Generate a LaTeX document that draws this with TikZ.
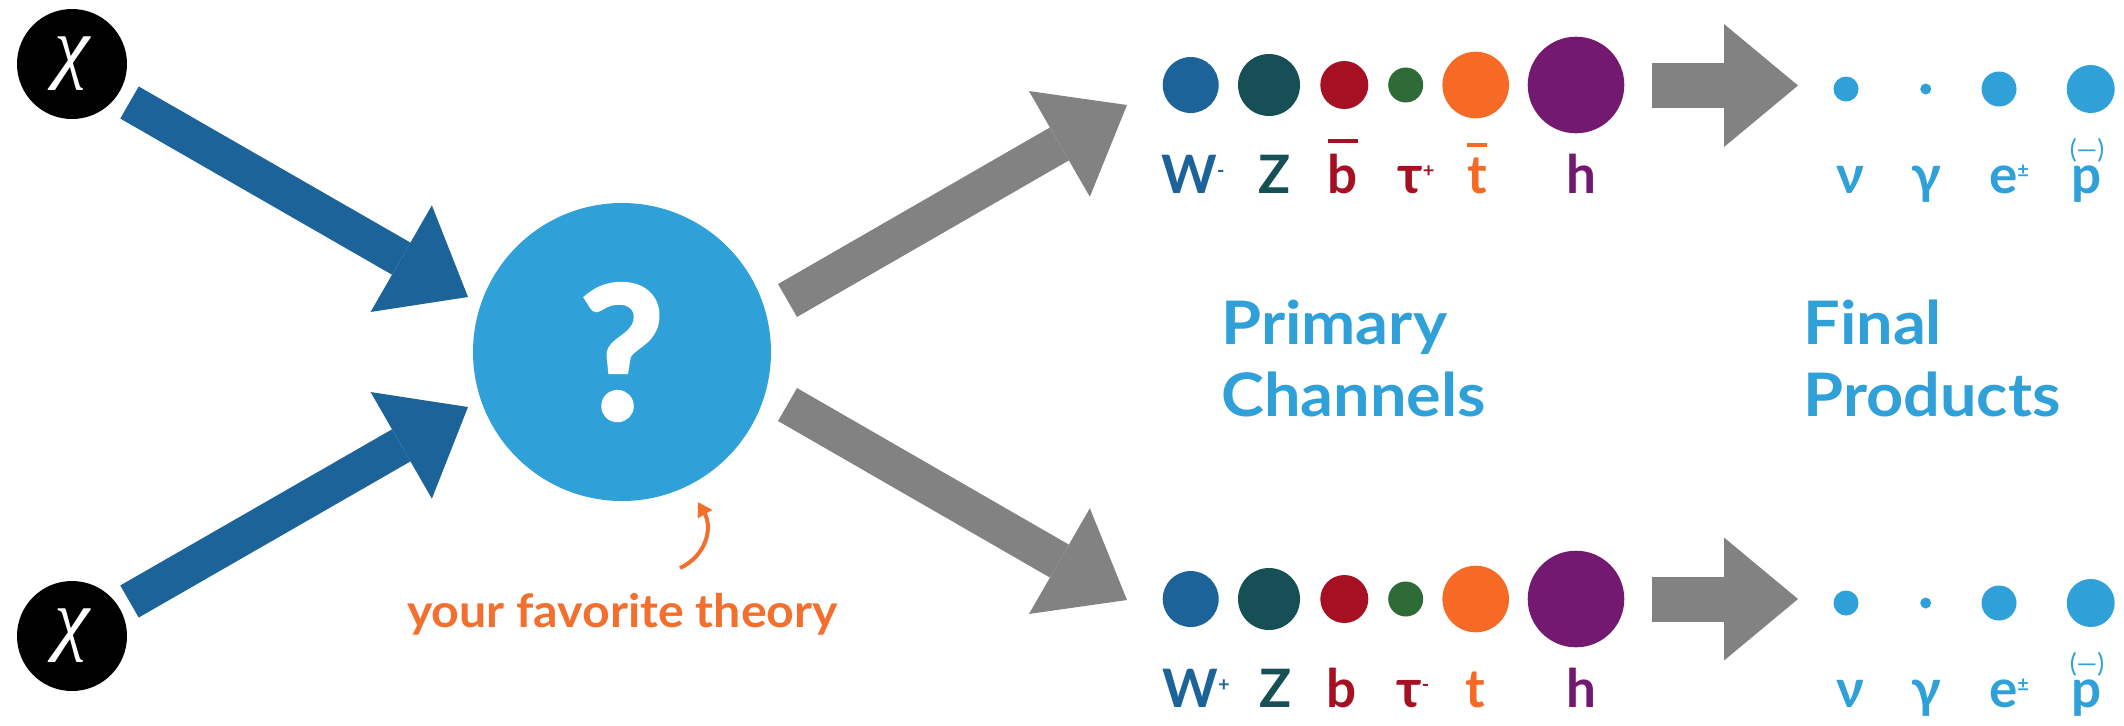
\documentclass[tikz,border=0pt]{standalone}
\usepackage{fontspec}
\setmainfont{Lato}
\newfontfamily\chifont{Liberation Serif}
\newfontfamily\widefont{Lato}[FakeStretch=1.08]
\newfontfamily\favfont{Lato}[FakeStretch=1.05]
\newfontfamily\qfont{Lato}[FakeBold=2.5]
\usetikzlibrary{arrows.meta}
\definecolor{arrowblue}{HTML}{1B6399}
\definecolor{qblue}{HTML}{2FA1D8}
\definecolor{arrowgray}{HTML}{828282}
\definecolor{cW}{HTML}{1C6399}
\definecolor{cZ}{HTML}{164F56}
\definecolor{cb}{HTML}{A51122}
\definecolor{ctau}{HTML}{2E6B36}
\definecolor{ct}{HTML}{F66A25}
\definecolor{ch}{HTML}{73196F}
\definecolor{theory}{HTML}{F36F2E}
\newcommand\sgn[1]{\raisebox{8pt}{\fontsize{10}{10}\selectfont #1}}
\newcommand\ovl[1]{\vbox{\hrule height 2pt\kern 5.5pt\hbox{#1}}}
\tikzset{
  dot/.style={circle, fill=#1, inner sep=0pt},
  plab/.style={anchor=base, text=#1, font=\fontsize{26.5}{26.5}\selectfont\bfseries, inner sep=0pt},
  chinode/.style={circle, fill=black, inner sep=0pt, minimum size=55pt, text=white, font=\fontsize{40}{40}\selectfont\chifont\itshape},
  bluearrow/.style={draw=arrowblue, line width=18.5pt, -{Triangle[length=38.5pt,width=61.5pt,line width'=0pt]}},
  grayarrow/.style={draw=arrowgray, line width=19pt, -{Triangle[length=39pt,width=61pt,line width'=0pt]}},
  rightarrow/.style={draw=arrowgray, line width=22.5pt, -{Triangle[length=37pt,width=61.5pt,line width'=0pt]}},
  heading/.style={anchor=north west, align=left, text=qblue, inner sep=0pt, font=\fontsize{30}{36}\selectfont\widefont\bfseries},
  parens/.style={text=qblue, inner sep=0pt, font=\fontsize{13}{13}\selectfont},
}
\begin{document}
\begin{tikzpicture}[x=0.5pt, y=-0.5pt]
\useasboundingbox (0,0) rectangle (2124,725);

% incoming particles
\node[chinode] (chi1) at (72,64) {χ};
\node[chinode] (chi2) at (72,636) {χ};

% theory
\node[circle, fill=qblue, inner sep=0pt, minimum size=149pt, text=white,
      font=\fontsize{92}{92}\selectfont\qfont\bfseries] (q) at (622,352) {?};

% arrow coordinates
\coordinate (b1s) at (129.5,102.5); \coordinate (b1e) at (468,297);
\coordinate (b2s) at (129.5,601.5); \coordinate (b2e) at (468,407);
\coordinate (g1s) at (787.5,300.5); \coordinate (g1e) at (1127,105);
\coordinate (g2s) at (787.5,404.5); \coordinate (g2e) at (1127,600);
\coordinate (r1s) at (1652,85.5);   \coordinate (r1e) at (1798,85.5);
\coordinate (r2s) at (1652,599);    \coordinate (r2e) at (1798,599);

\draw[bluearrow] (b1s) -- (b1e);
\draw[bluearrow] (b2s) -- (b2e);
\draw[grayarrow] (g1s) -- (g1e);
\draw[grayarrow] (g2s) -- (g2e);
\draw[rightarrow] (r1s) -- (r1e);
\draw[rightarrow] (r2s) -- (r2e);

% favourite theory
\node[anchor=base, text=theory, inner sep=0pt, font=\fontsize{23}{23}\selectfont\favfont\bfseries] (fav) at (622.5,627) {your favorite theory};
\coordinate (ot) at (680,568);
\coordinate (oh) at (698,502);
\draw[theory, line width=2pt, -{Triangle[length=7pt,width=8pt]}] (ot) .. controls (706,556) and (713,528) .. (oh);

% top primary channels
\node[dot=cW,   minimum size=28pt] (tW) at (1190.7,85) {};
\node[dot=cZ,   minimum size=31pt] (tZ) at (1269,85) {};
\node[dot=cb,   minimum size=24pt] (tb) at (1344.3,85) {};
\node[dot=ctau, minimum size=17.5pt] (ttau) at (1405.7,85) {};
\node[dot=ct,   minimum size=33.3pt] (tt) at (1475.7,85) {};
\node[dot=ch,   minimum size=48.3pt] (th) at (1576,85) {};
\node[plab=cW] (ltW) at (1193,193) {W\sgn{-}};
\node[plab=cZ] (ltZ) at (1275,193) {Z};
\node[plab=cb] (ltb) at (1343,193) {\ovl{b}};
\node[plab=cb] (lttau) at (1416,193) {τ\sgn{+}};
\node[plab=ct] (ltt) at (1477,193) {\ovl{t}};
\node[plab=ch] (lth) at (1581,193) {h};

% top final products
\node[dot=qblue, minimum size=12.5pt] (tnu) at (1846,89) {};
\node[dot=qblue, minimum size=5.5pt] (tga) at (1925.7,89) {};
\node[dot=qblue, minimum size=17.5pt] (te) at (1999,89) {};
\node[dot=qblue, minimum size=24pt] (tp) at (2090.7,89) {};
\node[plab=qblue] (ltnu) at (1850,193) {ν};
\node[plab=qblue] (ltga) at (1926,193) {γ};
\node[plab=qblue] (lte) at (2009,193) {e\sgn{±}};
\node[plab=qblue] (ltp) at (2087,193) {p};
\node[parens] (ltpb) at (2087,150) {(—)};

% bottom primary channels
\node[dot=cW,   minimum size=28pt] (bW) at (1190.7,599) {};
\node[dot=cZ,   minimum size=31pt] (bZ) at (1269,599) {};
\node[dot=cb,   minimum size=24pt] (bb) at (1344.3,599) {};
\node[dot=ctau, minimum size=17.5pt] (btau) at (1405.7,599) {};
\node[dot=ct,   minimum size=33.3pt] (bt) at (1475.7,599) {};
\node[dot=ch,   minimum size=48.3pt] (bh) at (1576,599) {};
\node[plab=cW] (lbW) at (1196,707) {W\sgn{+}};
\node[plab=cZ] (lbZ) at (1276,707) {Z};
\node[plab=cb] (lbb) at (1342,707) {b};
\node[plab=cb] (lbtau) at (1413,707) {τ\sgn{-}};
\node[plab=ct] (lbt) at (1475,707) {t};
\node[plab=ch] (lbh) at (1581,707) {h};

% bottom final products
\node[dot=qblue, minimum size=12.5pt] (bnu) at (1846,603) {};
\node[dot=qblue, minimum size=5.5pt] (bga) at (1925.7,603) {};
\node[dot=qblue, minimum size=17.5pt] (be) at (1999,603) {};
\node[dot=qblue, minimum size=24pt] (bp) at (2090.7,603) {};
\node[plab=qblue] (lbnu) at (1850,707) {ν};
\node[plab=qblue] (lbga) at (1926,707) {γ};
\node[plab=qblue] (lbe) at (2009,707) {e\sgn{±}};
\node[plab=qblue] (lbp) at (2087,707) {p};
\node[parens] (lbpb) at (2087,664) {(—)};

% headings
\node[heading] (prim) at (1221,300) {Primary\\Channels};
\node[heading] (fin) at (1803,300) {Final\\Products};
\end{tikzpicture}
\end{document}
